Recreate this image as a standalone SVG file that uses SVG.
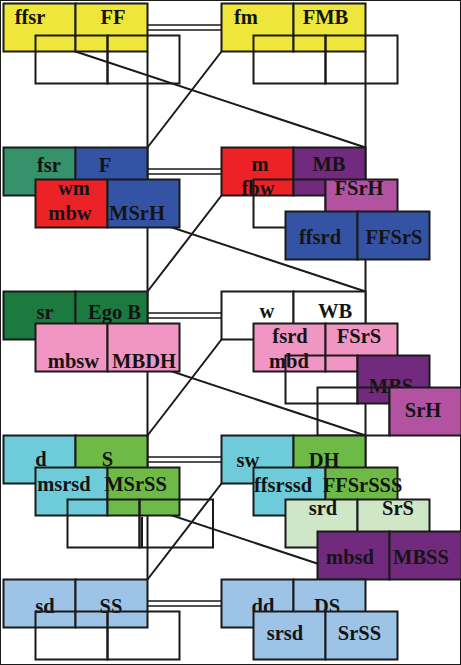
<svg xmlns="http://www.w3.org/2000/svg" width="461" height="665" viewBox="0 0 461 665">
<style>
rect{stroke:#1a1a1a;stroke-width:2}
.o{fill:none}
.ln{stroke:#1a1a1a;stroke-width:2;fill:none}
.dl{stroke:#1a1a1a;stroke-width:1.7;fill:none}
text{font-family:"Liberation Serif","Times New Roman",serif;font-weight:bold;font-size:20.5px;fill:#141414;text-anchor:middle}
.yel{fill:#efe63c}.tea{fill:#35926a}.blu{fill:#3553a4}.red{fill:#ec2227}.pur{fill:#712a7e}.mag{fill:#b452a2}
.dgr{fill:#1c7a40}.pnk{fill:#f196c3}.wht{fill:#ffffff}.cya{fill:#6eccda}.grn{fill:#6dbb46}.lgr{fill:#cfe7c6}.lbl{fill:#9dc4e7}
</style>
<rect x="0" y="0" width="461" height="665" fill="#ffffff" stroke="none"/>
<g id="connectors">
<path class="ln" d="M147.5,51.5V579.5M365.5,51.5V579.5"/>
<path class="ln" d="M221.5,51.5L147.5,147.5M221.5,195.5L147.5,291.5M221.5,339.5L147.5,435.5M221.5,483.5L147.5,579.5"/>
<path class="ln" d="M75.5,51.5L365.5,147.5M75.5,195.5L365.5,291.5M75.5,339.5L365.5,435.5M75.5,483.5L365.5,579.5"/>
<path class="dl" d="M147.5,25H221.5M147.5,30H221.5M147.5,169H221.5M147.5,174H221.5M147.5,313H221.5M147.5,318H221.5M147.5,457H221.5M147.5,462H221.5M147.5,601H221.5M147.5,606H221.5"/>
</g>
<g id="n-ffsr-FF"><rect class="yel" x="3.5" y="3.5" width="72" height="48"/><rect class="yel" x="75.5" y="3.5" width="72" height="48"/><text x="30" y="24">ffsr</text><text x="113" y="24">FF</text></g>
<g id="n-r1-left-back"><rect class="o" x="35.5" y="35.5" width="72" height="48"/><rect class="o" x="107.5" y="35.5" width="72" height="48"/></g>
<g id="n-fm-FMB"><rect class="yel" x="221.5" y="3.5" width="72" height="48"/><rect class="yel" x="293.5" y="3.5" width="72" height="48"/><text x="246" y="23.5">fm</text><text x="325.5" y="23.5">FMB</text></g>
<g id="n-r1-right-back"><rect class="o" x="253.5" y="35.5" width="72" height="48"/><rect class="o" x="325.5" y="35.5" width="72" height="48"/></g>

<g id="n-fsr-F"><rect class="tea" x="3.5" y="147.5" width="72" height="48"/><rect class="blu" x="75.5" y="147.5" width="72" height="48"/><text x="49" y="171.5">fsr</text><text x="105" y="171.5">F</text></g>
<g id="n-wm-MSrH"><rect class="red" x="35.5" y="179.5" width="72" height="48"/><rect class="blu" x="107.5" y="179.5" width="72" height="48"/><text x="74" y="195">wm</text><text x="70" y="220">mbw</text><text x="137" y="220">MSrH</text></g>
<g id="n-m-MB"><rect class="red" x="221.5" y="147.5" width="72" height="48"/><rect class="pur" x="293.5" y="147.5" width="72" height="48"/><text x="260" y="171">m</text><text x="329" y="171">MB</text></g>
<g id="n-fbw-FSrH"><text x="258" y="195">fbw</text><rect class="o" x="253.5" y="179.5" width="72" height="48"/><rect class="mag" x="325.5" y="179.5" width="72" height="48"/><text x="359" y="195">FSrH</text></g>
<g id="n-ffsrd-FFSrS"><rect class="blu" x="285.5" y="211.5" width="72" height="48"/><rect class="blu" x="357.5" y="211.5" width="72" height="48"/><text x="320" y="244">ffsrd</text><text x="394" y="244">FFSrS</text></g>

<g id="n-sr-EgoB"><rect class="dgr" x="3.5" y="291.5" width="72" height="48"/><rect class="dgr" x="75.5" y="291.5" width="72" height="48"/><text x="45" y="319">sr</text><text x="114.5" y="319">Ego B</text></g>
<g id="n-mbsw-MBDH"><rect class="pnk" x="35.5" y="323.5" width="72" height="48"/><rect class="pnk" x="107.5" y="323.5" width="72" height="48"/><text x="73.5" y="368">mbsw</text><text x="144" y="368">MBDH</text></g>
<g id="n-w-WB"><rect class="wht" x="221.5" y="291.5" width="72" height="48"/><rect class="wht" x="293.5" y="291.5" width="72" height="48"/><text x="267" y="318">w</text><text x="335" y="318">WB</text></g>
<g id="n-fsrd-FSrS"><rect class="pnk" x="253.5" y="323.5" width="72" height="48"/><rect class="pnk" x="325.5" y="323.5" width="72" height="48"/><text x="290" y="343">fsrd</text><text x="289" y="367.5">mbd</text><text x="359" y="343">FSrS</text></g>
<g id="n-MBS"><rect class="o" x="285.5" y="355.5" width="72" height="48"/><rect class="pur" x="357.5" y="355.5" width="72" height="48"/><text x="391" y="392.5">MBS</text></g>
<g id="n-SrH"><rect class="o" x="317.5" y="387.5" width="72" height="48"/><rect class="mag" x="389.5" y="387.5" width="72" height="48"/><text x="423" y="416.5">SrH</text></g>

<g id="n-d-S"><rect class="cya" x="3.5" y="435.5" width="72" height="48"/><rect class="grn" x="75.5" y="435.5" width="72" height="48"/><text x="41" y="466">d</text><text x="107.5" y="466">S</text></g>
<g id="n-msrsd-MSrSS"><rect class="cya" x="35.5" y="467.5" width="72" height="48"/><rect class="grn" x="107.5" y="467.5" width="72" height="48"/><text x="64" y="491">msrsd</text><text x="135.5" y="491">MSrSS</text></g>
<g id="n-r4-left-back"><rect class="o" x="67.5" y="499.5" width="72" height="48"/><rect class="o" x="139.5" y="499.5" width="73.5" height="48"/><path class="ln" d="M142,517V547.5"/></g>
<g id="n-sw-DH"><rect class="cya" x="221.5" y="435.5" width="72" height="48"/><rect class="grn" x="293.5" y="435.5" width="72" height="48"/><text x="248" y="466.5">sw</text><text x="324" y="466.5">DH</text></g>
<g id="n-ffsrssd-FFSrSSS"><rect class="cya" x="253.5" y="467.5" width="72" height="48"/><rect class="grn" x="325.5" y="467.5" width="72" height="48"/><text x="283" y="491.5">ffsrssd</text><text x="362.5" y="491.5">FFSrSSS</text></g>
<g id="n-srd-SrS"><rect class="lgr" x="285.5" y="499.5" width="72" height="48"/><rect class="lgr" x="357.5" y="499.5" width="72" height="48"/><text x="323" y="515">srd</text><text x="398" y="515">SrS</text></g>
<g id="n-mbsd-MBSS"><rect class="pur" x="317.5" y="531.5" width="72" height="48"/><rect class="pur" x="389.5" y="531.5" width="72" height="48"/><text x="350" y="564">mbsd</text><text x="421" y="564">MBSS</text></g>

<g id="n-sd-SS"><rect class="lbl" x="3.5" y="579.5" width="72" height="48"/><rect class="lbl" x="75.5" y="579.5" width="72" height="48"/><text x="45" y="613">sd</text><text x="111" y="613">SS</text></g>
<g id="n-r5-left-back"><rect class="o" x="35.5" y="611.5" width="72" height="48"/><rect class="o" x="107.5" y="611.5" width="72" height="48"/></g>
<g id="n-dd-DS"><rect class="lbl" x="221.5" y="579.5" width="72" height="48"/><rect class="lbl" x="293.5" y="579.5" width="72" height="48"/><text x="263" y="613">dd</text><text x="327" y="613">DS</text></g>
<g id="n-srsd-SrSS"><rect class="lbl" x="253.5" y="611.5" width="72" height="48"/><rect class="lbl" x="325.5" y="611.5" width="72" height="48"/><text x="285" y="640">srsd</text><text x="359.5" y="640">SrSS</text></g>
</svg>
